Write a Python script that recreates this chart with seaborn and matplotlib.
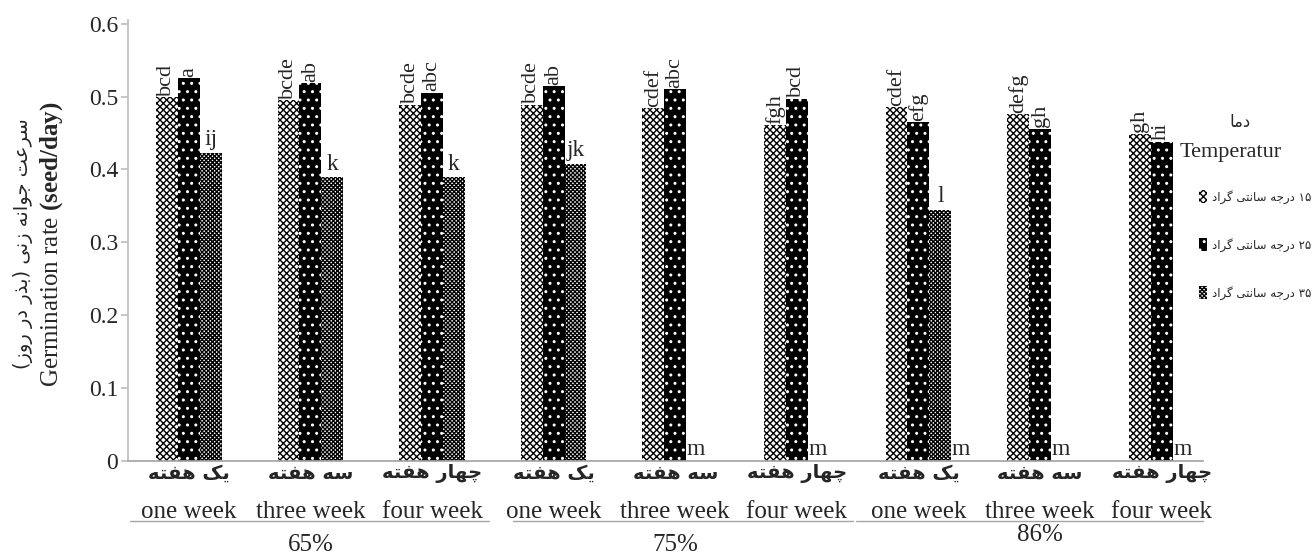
import re
import pandas as pd
import numpy as np
import matplotlib
matplotlib.use('Agg')
import matplotlib.pyplot as plt
import matplotlib.patches as mpatches
import matplotlib.transforms as mtransforms
import seaborn as sns

# data
humidity = ['65%', '75%', '86%']
weeks_en = ['one week', 'three week', 'four week']
weeks_fa = ['یک هفته', 'سه هفته', 'چهار هفته']
temps = ['۱۵ درجه سانتی گراد', '۲۵ درجه سانتی گراد', '۳۵ درجه سانتی گراد']

rate_15 = [0.499, 0.495, 0.489, 0.489, 0.484, 0.461, 0.485, 0.476, 0.449]
rate_25 = [0.525, 0.518, 0.505, 0.514, 0.510, 0.497, 0.465, 0.456, 0.438]
rate_35 = [0.423, 0.390, 0.390, 0.408, 0.0, 0.0, 0.345, 0.0, 0.0]

letters_15 = ['bcd', 'bcde', 'bcde', 'bcde', 'cdef', 'fgh', 'cdef', 'defg', 'gh']
letters_25 = ['a', 'ab', 'abc', 'ab', 'abc', 'bcd', 'efg', 'gh', 'hi']
letters_35 = ['ij', 'k', 'k', 'jk', '', '', 'l', '', '']
base_m = [4, 5, 6, 7, 8]  # groups with an "m" at the base

yticks = [0, 0.1, 0.2, 0.3, 0.4, 0.5, 0.6]
ytick_labels = ['0', '0.1', '0.2', '0.3', '0.4', '0.5', '0.6']

ylabel_fa = 'سرعت جوانه زنی (بذر در روز)'
ylabel_en = r'Germination rate $\mathbf{(seed/day)}$'
legend_title_fa = 'دما'
legend_title_en = 'Temperatur'

# matplotlib has no arabic shaping, so pick presentation forms by hand
# (isolated, final, initial, medial)
FORMS = {
    'ا': ('\uFE8D', '\uFE8E', None, None),
    'ب': ('\uFE8F', '\uFE90', '\uFE91', '\uFE92'),
    'ت': ('\uFE95', '\uFE96', '\uFE97', '\uFE98'),
    'ج': ('\uFE9D', '\uFE9E', '\uFE9F', '\uFEA0'),
    'د': ('\uFEA9', '\uFEAA', None, None),
    'ذ': ('\uFEAB', '\uFEAC', None, None),
    'ر': ('\uFEAD', '\uFEAE', None, None),
    'ز': ('\uFEAF', '\uFEB0', None, None),
    'س': ('\uFEB1', '\uFEB2', '\uFEB3', '\uFEB4'),
    'ع': ('\uFEC9', '\uFECA', '\uFECB', '\uFECC'),
    'ف': ('\uFED1', '\uFED2', '\uFED3', '\uFED4'),
    'م': ('\uFEE1', '\uFEE2', '\uFEE3', '\uFEE4'),
    'ن': ('\uFEE5', '\uFEE6', '\uFEE7', '\uFEE8'),
    'ه': ('\uFEE9', '\uFEEA', '\uFEEB', '\uFEEC'),
    'و': ('\uFEED', '\uFEEE', None, None),
    'چ': ('\uFB7A', '\uFB7B', '\uFB7C', '\uFB7D'),
    'ک': ('\uFB8E', '\uFB8F', '\uFB90', '\uFB91'),
    'گ': ('\uFB92', '\uFB93', '\uFB94', '\uFB95'),
    'ی': ('\uFBFC', '\uFBFD', '\uFBFE', '\uFBFF'),
}


def fa(s):
    out = []
    for i, ch in enumerate(s):
        if ch not in FORMS:
            out.append(ch)
            continue
        iso, fin, ini, med = FORMS[ch]
        prev = s[i - 1] if i > 0 else ''
        nxt = s[i + 1] if i + 1 < len(s) else ''
        jp = prev in FORMS and FORMS[prev][2] is not None
        jn = ini is not None and nxt in FORMS
        if jp and jn:
            out.append(med)
        elif jp:
            out.append(fin)
        elif jn:
            out.append(ini)
        else:
            out.append(iso)
    vis = ''.join(out)[::-1]
    vis = vis.translate(str.maketrans('()', ')('))
    vis = re.sub('[۰-۹0-9]+', lambda m: m.group(0)[::-1], vis)
    return vis


cells = [h + ' ' + w for h in humidity for w in weeks_en]
df = pd.DataFrame({
    'cell': cells * 3,
    'temp': np.repeat(temps, len(cells)),
    'rate': rate_15 + rate_25 + rate_35,
})

sns.set_theme(style='white')
plt.rcParams['font.family'] = ['Liberation Serif', 'DejaVu Sans']
plt.rcParams['mathtext.fontset'] = 'custom'
plt.rcParams['mathtext.rm'] = 'Liberation Serif'
plt.rcParams['mathtext.bf'] = 'Liberation Serif:bold'
plt.rcParams['hatch.linewidth'] = 1.0

fig = plt.figure(figsize=(13.16, 5.54), dpi=100)
ax = fig.add_axes([128 / 1316, 93 / 554, 1075 / 1316, 441 / 554])

sns.barplot(data=df, x='cell', y='rate', hue='temp', order=cells, hue_order=temps,
            width=0.54, gap=0, errorbar=None, legend=False, ax=ax,
            palette=['white', 'black', 'white'])

styles = [dict(facecolor='white', edgecolor='black', hatch='xxxxx'),
          dict(facecolor='black', edgecolor='white', hatch='..'),
          dict(facecolor='white', edgecolor='black', hatch='xxxxxxxx')]
for cont, st in zip(ax.containers, styles):
    for bar in cont:
        bar.set(linewidth=0, **st)

# significance letters
for cont, labs in zip(ax.containers[:2], [letters_15, letters_25]):
    for bar, lab in zip(cont, labs):
        ax.text(bar.get_x() + bar.get_width() / 2, bar.get_height() + 0.002, lab,
                rotation=90, ha='center', va='bottom', fontsize=16)
for bar, lab in zip(ax.containers[2], letters_35):
    if lab:
        ax.text(bar.get_x() + bar.get_width() / 2, bar.get_height() + 0.003, lab,
                ha='center', va='bottom', fontsize=17)
for g in base_m:
    shown = [c[g] for c in ax.containers if c[g].get_height() > 0]
    ax.text(shown[-1].get_x() + shown[-1].get_width() + 0.005, 0.002, 'm',
            ha='left', va='bottom', fontsize=17)

ax.set_xlim(-0.5, 8.34)
ax.set_ylim(0, 0.605)
ax.set_yticks(yticks)
ax.set_yticklabels(ytick_labels, fontsize=17)
ax.set_xticks(range(len(cells)))
ax.set_xticklabels([fa(w) for w in weeks_fa * 3], fontfamily='DejaVu Sans',
                   fontsize=14, fontweight='bold')
ax.tick_params(axis='x', length=0, pad=2)
ax.tick_params(axis='y', length=5, color='#bfbfbf', direction='out', left=True, pad=2)
ax.set_xlabel('')
ax.set_ylabel('')
for side in ['top', 'right']:
    ax.spines[side].set_visible(False)
ax.spines['left'].set_color('#bfbfbf')
ax.spines['bottom'].set_color('#a6a6a6')

# english week labels, underlines and humidity levels
blend = mtransforms.blended_transform_factory(ax.transData, ax.transAxes)
for i, w in enumerate(weeks_en * 3):
    ax.text(i, -0.115, w, transform=blend, ha='center', va='center', fontsize=18)
spans = [(-0.48, 2.47), (2.67, 5.46), (5.49, 8.34)]
for (x0, x1) in spans:
    ax.plot([x0, x1], [-0.137, -0.137], transform=blend, clip_on=False,
            color='#a6a6a6', lw=1)
for k, h in enumerate(humidity):
    ax.text(3 * k + 1, -0.19 if k < 2 else -0.167, h, transform=blend,
            ha='center', va='center', fontsize=18)

# y label, two lines
fig.text(23 / 1316, 0.56, fa(ylabel_fa), rotation=90, ha='center', va='center',
         fontfamily='DejaVu Sans', fontsize=14)
fig.text(52 / 1316, 0.56, ylabel_en, rotation=90, ha='center', va='center', fontsize=18)

# legend
fig.text(1240 / 1316, 1 - 122 / 554, fa(legend_title_fa), ha='center', va='center',
         fontfamily='DejaVu Sans', fontsize=12)
fig.text(1180 / 1316, 1 - 152 / 554, legend_title_en, ha='left', va='center', fontsize=16)
handles = [mpatches.Patch(linewidth=0, **st) for st in styles]
ax.legend(handles, [fa(t) for t in temps], loc='upper left',
          bbox_to_anchor=(1199 / 1316, 1 - 190 / 554), bbox_transform=fig.transFigure,
          frameon=False, prop={'family': 'DejaVu Sans', 'size': 8.5},
          handlelength=0.7, handleheight=1.3, labelspacing=2.9, handletextpad=0.4,
          borderpad=0, borderaxespad=0)

fig.savefig('out.png', dpi=100)
